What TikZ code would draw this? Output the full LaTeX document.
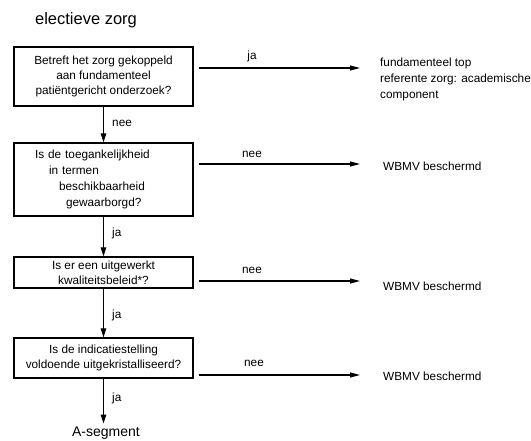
\documentclass[tikz,border=0pt]{standalone}
\usepackage{fontspec}
\setmainfont{Liberation Sans}
\usetikzlibrary{arrows.meta,calc}
\begin{document}
\begin{tikzpicture}[x=1pt,y=-1pt,
  qbox/.style={draw,line width=1.2pt,minimum width=179pt,inner sep=0pt,align=center,
    font=\fontsize{11.8pt}{15pt}\selectfont},
  lbl/.style={inner sep=0pt,font=\fontsize{11.8pt}{15pt}\selectfont},
  res/.style={inner sep=0pt,anchor=west,align=left,font=\fontsize{11.8pt}{16pt}\selectfont},
  arr/.style={line width=1.2pt,-{Triangle[length=9pt,width=5.5pt]}},
  hline/.style={line width=1.2pt,-{Triangle[length=10pt,width=5pt]}}]
\useasboundingbox (0,0) rectangle (531,441);

\node[inner sep=0pt,font=\fontsize{16.5pt}{18pt}\selectfont] (title) at (86,20) {electieve zorg};

\node[qbox,minimum height=59pt] (b1) at (103.5,76.5)
  {Betreft het zorg gekoppeld\\aan fundamenteel\\patiëntgericht onderzoek?};
\node[draw,line width=1.2pt,minimum width=179pt,minimum height=73pt,inner xsep=21pt,inner ysep=0pt,
  text width=137pt,align=left,font=\fontsize{11.8pt}{16.3pt}\selectfont] (b2) at (103.5,179.5)
  {Is de toegankelijkheid\\\hspace*{14pt}in termen\\\hspace*{24pt}beschikbaarheid\\\hspace*{31pt}gewaarborgd?};
\node[qbox,minimum height=31pt] (b3) at (103.5,272.5)
  {Is er een uitgewerkt\\kwaliteitsbeleid*?};
\node[qbox,minimum height=40pt] (b4) at (103.5,358)
  {Is de indicatiestelling\\voldoende uitgekristalliseerd?};

\node[inner sep=0pt,font=\fontsize{14pt}{16pt}\selectfont] (aseg) at (106,433) {A-segment};

% result texts
\node[res] (r1) at (380,79) {fundamenteel top\\referente zorg: academische\\component};
\node[res] (r2) at (383,166) {WBMV beschermd};
\node[res] (r3) at (383,286) {WBMV beschermd};
\node[res] (r4) at (383,376) {WBMV beschermd};

% vertical connectors
\draw[arr] (b1.south) -- (b2.north);
\draw[arr] (b2.south) -- (b3.north);
\draw[arr] (b3.south) -- (b4.north);
\draw[arr] (b4.south) -- ($(b4.south |- aseg.north)+(0,-3)$);

\node[lbl,anchor=west] (v1) at (112,123) {nee};
\node[lbl,anchor=west] (v2) at (112,233) {ja};
\node[lbl,anchor=west] (v3) at (112,315) {ja};
\node[lbl,anchor=west] (v4) at (112,398) {ja};

% horizontal connectors
\draw[hline] ($(b1.east |- 0,68)+(5,0)$) -- ($(r1.west |- 0,68)+(-20,0)$);
\draw[hline] ($(b2.east |- 0,164)+(5,0)$) -- ($(r2.west |- 0,164)+(-23,0)$);
\draw[hline] ($(b3.east |- 0,281)+(5,0)$) -- ($(r3.west |- 0,281)+(-23,0)$);
\draw[hline] ($(b4.east |- 0,375)+(5,0)$) -- ($(r4.west |- 0,375)+(-23,0)$);

\node[lbl] (h1) at (252,56) {ja};
\node[lbl] (h2) at (252,154) {nee};
\node[lbl] (h3) at (252,270) {nee};
\node[lbl] (h4) at (254,363) {nee};
\end{tikzpicture}
\end{document}
